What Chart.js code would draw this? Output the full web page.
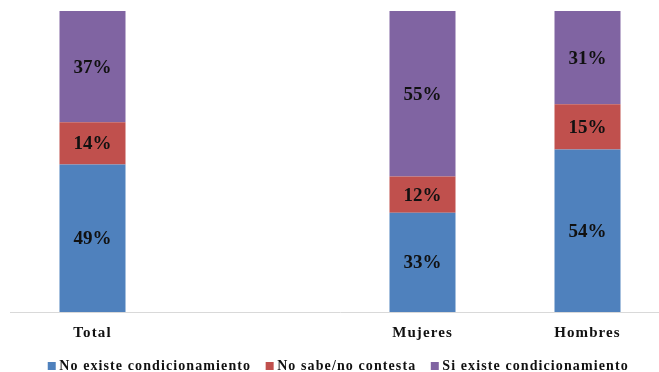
<!DOCTYPE html>
<html>
<head>
<meta charset="utf-8">
<script src="https://cdn.jsdelivr.net/npm/chart.js@4"></script>
<style>
  html, body { margin: 0; padding: 0; background: #fff; overflow: hidden; }
  #wrap { width: 670px; height: 372px; }
</style>
</head>
<body>
<div id="wrap"><canvas id="condChart"></canvas></div>
<script>
const categories = ['Total', '', 'Mujeres', 'Hombres'];
const noExiste = [49, null, 33, 54];
const noSabe = [14, null, 12, 15];
const siExiste = [37, null, 55, 31];

const serif = "'Liberation Serif', 'Times New Roman', serif";

// espaciado de letras como en el original (ejes y leyenda)
const spacing = {
  id: 'spacing',
  beforeUpdate(chart) { chart.ctx.letterSpacing = '1.1px'; },
  beforeLayout(chart) { chart.ctx.letterSpacing = '1.1px'; },
  beforeDraw(chart) { chart.ctx.letterSpacing = '1.1px'; }
};

// etiquetas de porcentaje en el centro de cada segmento
const barLabels = {
  id: 'barLabels',
  afterDatasetsDraw(chart) {
    const {ctx} = chart;
    ctx.save();
    ctx.letterSpacing = '0px';
    ctx.font = 'bold 19px ' + serif;
    ctx.fillStyle = '#111';
    ctx.textAlign = 'center';
    ctx.textBaseline = 'middle';
    chart.data.datasets.forEach((ds, i) => {
      chart.getDatasetMeta(i).data.forEach((bar, j) => {
        const v = ds.data[j];
        if (v == null) return;
        const c = bar.getCenterPoint();
        ctx.fillText(v + '%', c.x, c.y + 1);
      });
    });
    ctx.restore();
  }
};

new Chart(document.getElementById('condChart').getContext('2d'), {
  type: 'bar',
  data: {
    labels: categories,
    datasets: [
      {label: 'No existe condicionamiento', data: noExiste, backgroundColor: '#4F81BD'},
      {label: 'No sabe/no contesta', data: noSabe, backgroundColor: '#C0504D'},
      {label: 'Si existe condicionamiento', data: siExiste, backgroundColor: '#8064A2'}
    ]
  },
  options: {
    responsive: true,
    maintainAspectRatio: false,
    animation: false,
    datasets: {
      bar: {barPercentage: 0.4, categoryPercentage: 1}
    },
    layout: {padding: {top: 11, left: 10, right: 0, bottom: 0}},
    plugins: {
      tooltip: {enabled: false},
      legend: {
        position: 'bottom',
        maxHeight: 31,
        labels: {
          usePointStyle: true,
          pointStyle: 'rect',
          boxWidth: 1,
          boxHeight: 8,
          padding: 18,
          color: '#111',
          font: {family: serif, weight: 'bold', size: 14}
        }
      }
    },
    scales: {
      x: {
        stacked: true,
        afterFit(scale) { scale.height = 29; },
        grid: {display: false, drawTicks: false},
        border: {display: true, color: '#d9d9d9', width: 1},
        ticks: {
          color: '#111',
          padding: 12,
          font: {family: serif, weight: 'bold', size: 15}
        }
      },
      y: {
        stacked: true,
        display: false,
        min: 0,
        max: 100
      }
    }
  },
  plugins: [spacing, barLabels]
});
</script>
</body>
</html>
